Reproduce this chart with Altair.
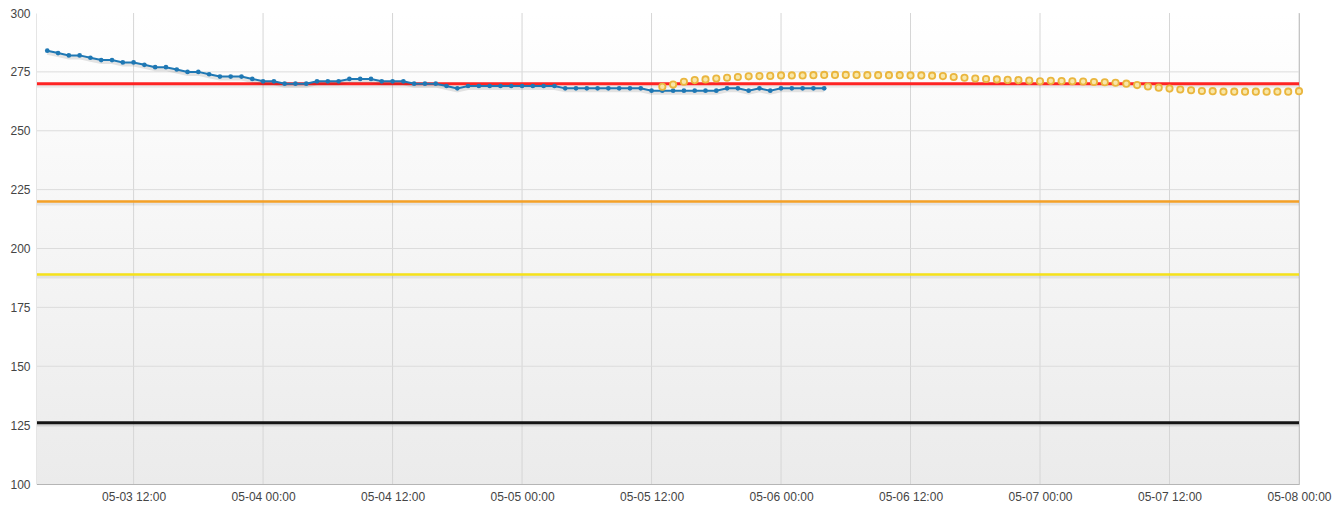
import altair as alt
import pandas as pd

# ---- data ----
blue_start = "2024-05-03 04:00"
blue_values = [284, 283, 282, 282, 281, 280, 280, 279, 279, 278,
               277, 277, 276, 275, 275, 274, 273, 273, 273, 272,
               271, 271, 270, 270, 270, 271, 271, 271, 272, 272,
               272, 271, 271, 271, 270, 270, 270, 269, 268, 269,
               269, 269, 269, 269, 269, 269, 269, 269, 268, 268,
               268, 268, 268, 268, 268, 268, 267, 267, 267, 267,
               267, 267, 267, 268, 268, 267, 268, 267, 268, 268,
               268, 268, 268]

yellow_start = "2024-05-05 13:00"
yellow_values = [268.7, 269.6, 270.8, 271.5, 271.8, 272.2, 272.5, 272.8, 273.1, 273.2,
                 273.3, 273.5, 273.5, 273.5, 273.6, 273.7, 273.7, 273.7, 273.7, 273.6,
                 273.6, 273.6, 273.6, 273.5, 273.5, 273.4, 273.2, 272.8, 272.5, 272.2,
                 272.0, 271.8, 271.6, 271.5, 271.3, 271.0, 271.2, 271.1, 271.0, 270.9,
                 270.7, 270.6, 270.4, 270.0, 269.4, 268.8, 268.3, 267.9, 267.5, 267.2,
                 266.9, 266.8, 266.6, 266.6, 266.6, 266.6, 266.6, 266.6, 266.6, 266.8]

threshold_values = [126, 189, 220, 270]
threshold_colors = ["#141414", "#f6e21a", "#f5a127", "#ff2424"]
threshold_widths = [3, 2.5, 2.5, 3]

x_tick_labels = ["2024-05-03 12:00", "2024-05-04 00:00", "2024-05-04 12:00",
                 "2024-05-05 00:00", "2024-05-05 12:00", "2024-05-06 00:00",
                 "2024-05-06 12:00", "2024-05-07 00:00", "2024-05-07 12:00",
                 "2024-05-08 00:00"]
y_ticks = [100, 125, 150, 175, 200, 225, 250, 275, 300]

# ---- tables ----
def iso(ts):
    return pd.Timestamp(ts).strftime("%Y-%m-%dT%H:%M:%S")

blue_df = pd.DataFrame({
    "t": pd.date_range(blue_start, periods=len(blue_values), freq="h").strftime("%Y-%m-%dT%H:%M:%S"),
    "v": blue_values})
yellow_df = pd.DataFrame({
    "t": pd.date_range(yellow_start, periods=len(yellow_values), freq="h").strftime("%Y-%m-%dT%H:%M:%S"),
    "v": yellow_values})
thr_df = pd.DataFrame({"v": threshold_values, "c": threshold_colors, "w": threshold_widths})
xgrid_df = pd.DataFrame({"t": [iso(s) for s in x_tick_labels]})
ygrid_df = pd.DataFrame({"v": y_ticks[1:-1]})
bg_df = pd.DataFrame({"a": [0]})

W, H = 1262, 471
FONT = "Liberation Sans"

def dt(s):
    p = pd.Timestamp(s)
    return alt.DateTime(year=p.year, month=p.month, date=p.day, hours=p.hour, minutes=p.minute)

x_scale = alt.Scale(domain=[dt("2024-05-03 03:03"), dt("2024-05-08 00:00")])
y_scale = alt.Scale(domain=[100, 300], nice=False, zero=False)

x_axis = alt.Axis(values=[dt(s) for s in x_tick_labels], format="%m-%d %H:%M", title=None,
                  grid=False, ticks=False, domain=False, labelFlush=False, labelOverlap=False,
                  labelFont=FONT, labelFontSize=12, labelColor="#444444", labelPadding=7)
y_axis = alt.Axis(values=y_ticks, title=None, grid=False, ticks=False, domain=True,
                  domainColor="#999999", domainWidth=1.5,
                  labelFont=FONT, labelFontSize=12, labelColor="#444444", labelPadding=7)

X = alt.X("t:T", scale=x_scale, axis=x_axis)
Y = alt.Y("v:Q", scale=y_scale, axis=y_axis)

bg = alt.Chart(bg_df).mark_rect(fill={
    "gradient": "linear", "x1": 0, "y1": 0, "x2": 0, "y2": 1,
    "stops": [{"offset": 0, "color": "#ffffff"}, {"offset": 1, "color": "#ebebeb"}]}
).encode(x=alt.value(0), x2=alt.value(W), y=alt.value(0), y2=alt.value(H))

xgrid = alt.Chart(xgrid_df).mark_rule(color="#d6d6d6", strokeWidth=1).encode(
    x=X, y=alt.value(0), y2=alt.value(H))
ygrid = alt.Chart(ygrid_df).mark_rule(color="#dcdcdc", strokeWidth=1).encode(
    y=Y, x=alt.value(0), x2=alt.value(W))

thr_shadow = alt.Chart(thr_df).mark_rule(color="#000000", opacity=0.07, strokeWidth=5, yOffset=1.5).encode(
    y=Y, x=alt.value(0), x2=alt.value(W))
thr = alt.Chart(thr_df).mark_rule().encode(
    y=Y, x=alt.value(0), x2=alt.value(W),
    color=alt.Color("c:N", scale=None),
    strokeWidth=alt.StrokeWidth("w:Q", scale=None))

BLUE = "#1f78b4"
blue_shadow = alt.Chart(blue_df).mark_line(color="#000000", opacity=0.1, strokeWidth=4, yOffset=2).encode(x=X, y=Y)
blue = alt.Chart(blue_df).mark_line(color=BLUE, strokeWidth=2,
                                    point=alt.OverlayMarkDef(filled=True, size=22, color=BLUE)).encode(x=X, y=Y)

yellow = alt.Chart(yellow_df).mark_point(shape="circle", filled=True, fill="#f8e7a8", stroke="#eab63e",
                                         strokeWidth=1.8, size=40, opacity=1).encode(x=X, y=Y)

chart = alt.layer(bg, xgrid, ygrid, thr_shadow, thr, blue_shadow, blue, yellow).properties(
    width=W, height=H,
    padding={"left": 29, "top": 5, "right": 34, "bottom": 18},
    autosize=alt.AutoSizeParams(type="none"),
).configure_view(stroke="#b5b5b5", strokeWidth=1)

chart.save("out.html", embed_options={"renderer": "svg", "actions": False})
